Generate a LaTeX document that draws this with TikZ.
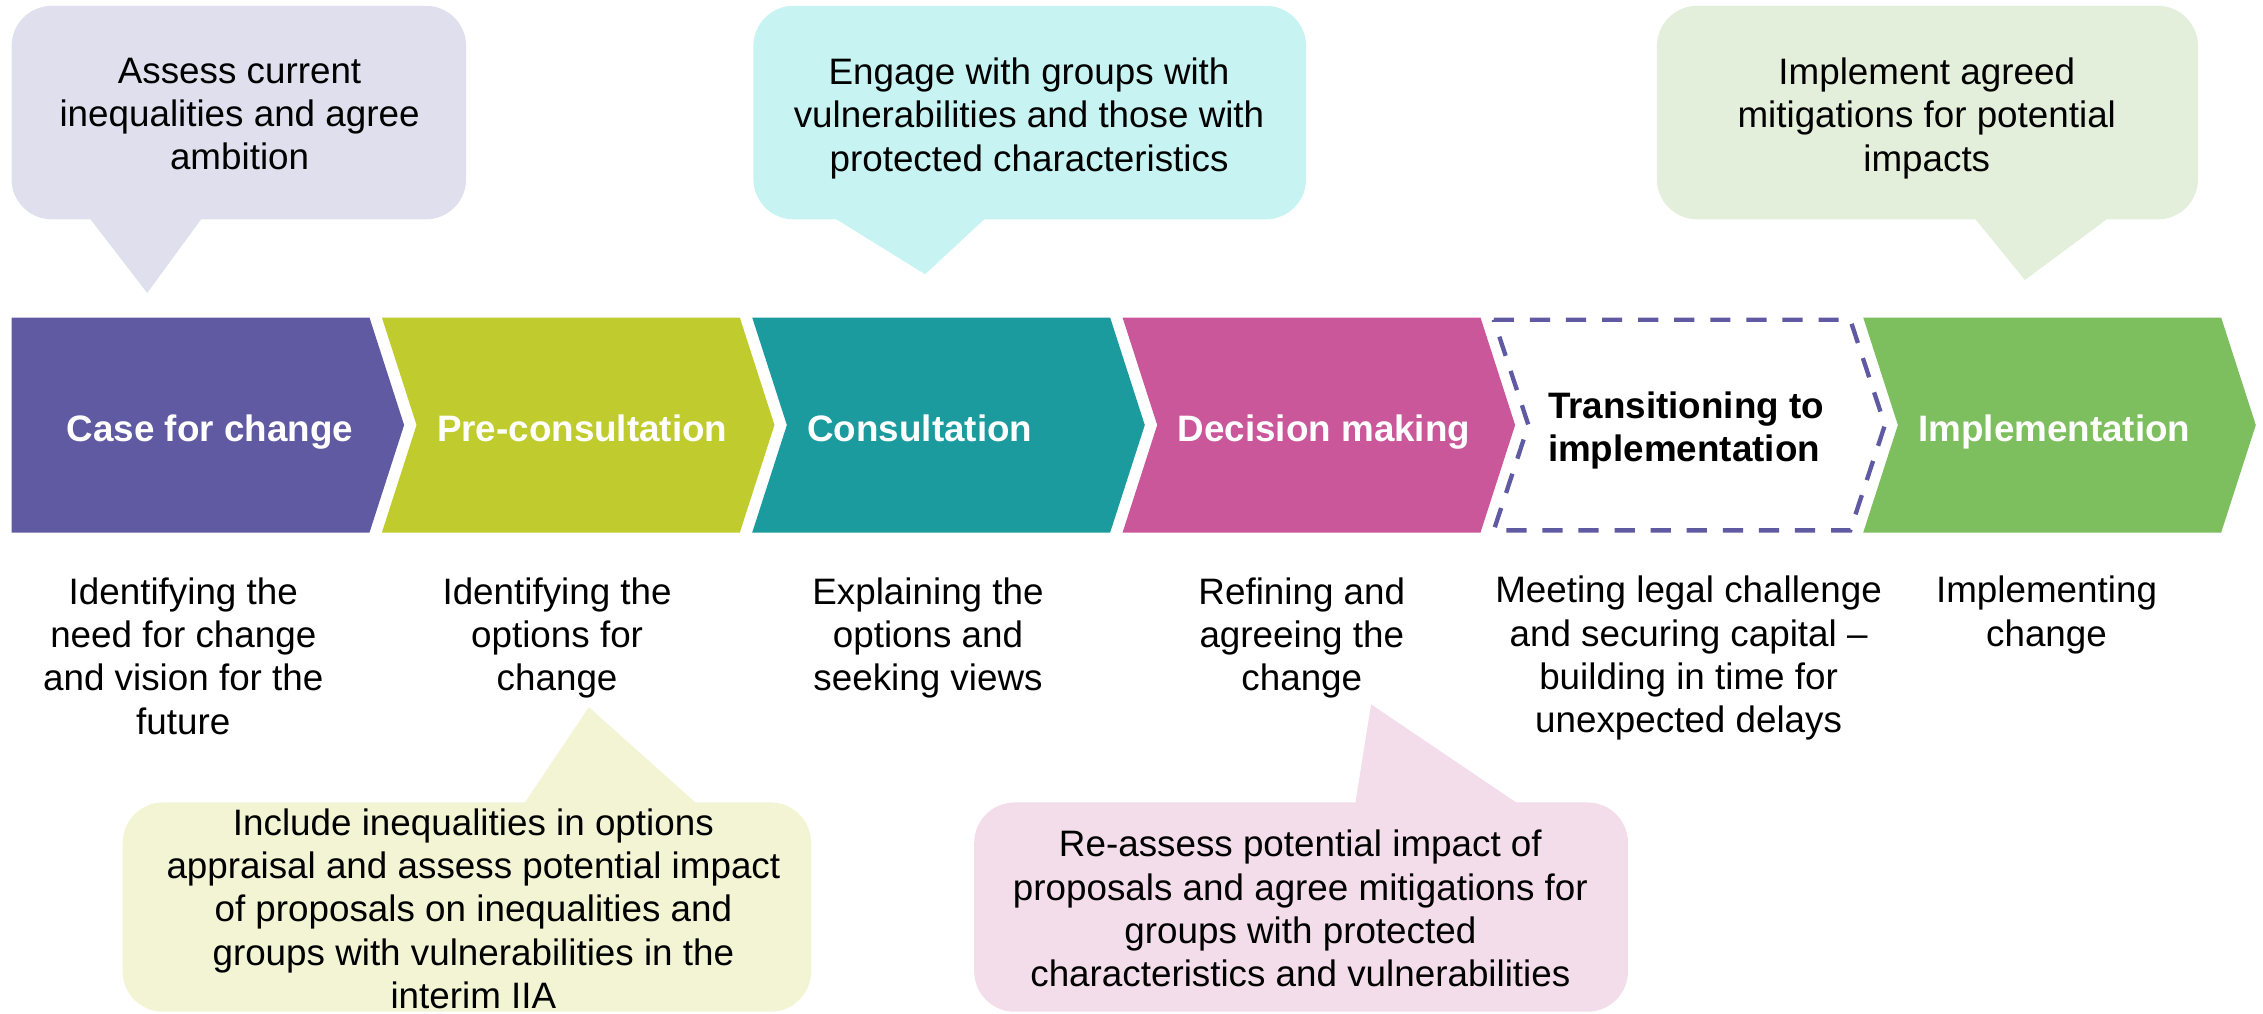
\documentclass[tikz,border=0pt]{standalone}
\usepackage{fontspec}
\setmainfont{Liberation Sans}
\definecolor{casecol}{RGB}{95,90,162}
\definecolor{precol}{RGB}{192,204,46}
\definecolor{conscol}{RGB}{28,155,158}
\definecolor{deccol}{RGB}{201,87,154}
\definecolor{implcol}{RGB}{125,190,94}
\definecolor{bubA}{RGB}{223,223,237}
\definecolor{bubB}{RGB}{199,243,243}
\definecolor{bubC}{RGB}{227,239,218}
\definecolor{bubD}{RGB}{242,244,212}
\definecolor{bubE}{RGB}{243,221,234}

\begin{document}
\begin{tikzpicture}[x=1pt,y=-1pt,
	lbl/.style={anchor=north west,inner sep=0pt,text=white,align=left,font=\fontsize{25.5}{30}\selectfont\bfseries},
	txt/.style={anchor=north,inner sep=0pt,align=center,font=\fontsize{25.5}{30}\selectfont},
	bub/.style={rounded corners=28pt}]
	\useasboundingbox (0,0) rectangle (1568,702);
	\fill[bubA,bub] (8,4) rectangle (323,152);
	\fill[bubA] (62,151) -- (102,203) -- (140,151) -- cycle;
	\fill[bubB,bub] (522,4) rectangle (905,152);
	\fill[bubB] (578,151) -- (641,190) -- (683,151) -- cycle;
	\fill[bubC,bub] (1148,4) rectangle (1523,152);
	\fill[bubC] (1368,151) -- (1403,194) -- (1461,151) -- cycle;
	\fill[bubD,bub] (85,556) rectangle (562,701);
	\fill[bubD] (363,557) -- (408,490) -- (483,557) -- cycle;
	\fill[bubE,bub] (675,556) rectangle (1128,701);
	\fill[bubE] (939,557) -- (950,488) -- (1052,557) -- cycle;
	\fill[casecol] (8,220) -- ++(248,0) -- ++(24,74.5) -- ++(-24,74.5) -- ++(-248,0) -- cycle;
	\fill[precol] (264.6,220) -- ++(248,0) -- ++(24,74.5) -- ++(-24,74.5) -- ++(-248,0) -- ++(24,-74.5) -- cycle;
	\fill[conscol] (521.2,220) -- ++(248,0) -- ++(24,74.5) -- ++(-24,74.5) -- ++(-248,0) -- ++(24,-74.5) -- cycle;
	\fill[deccol] (777.8,220) -- ++(248,0) -- ++(24,74.5) -- ++(-24,74.5) -- ++(-248,0) -- ++(24,-74.5) -- cycle;
	\draw[casecol,line width=3pt,dash pattern=on 14pt off 11pt] (1035,221.5) -- ++(247,0) -- ++(24,73) -- ++(-24,73) -- ++(-247,0) -- ++(24,-73) -- cycle;
	\fill[implcol] (1291,220) -- ++(248,0) -- ++(24,74.5) -- ++(-24,74.5) -- ++(-248,0) -- ++(24,-74.5) -- cycle;
	\node[lbl] (case) at (46,287) {Case for change};
	\node[lbl] (precons) at (302.6,287) {Pre-consultation};
	\node[lbl] (cons) at (559.2,287) {Consultation};
	\node[lbl] (decision) at (815.8,287) {Decision making};
	\node[lbl,text=black] (transition) at (1072.4,271) {Transitioning to\\implementation};
	\node[lbl] (impl) at (1329,287) {Implementation};
	\node[txt] (caseText) at (127,400) {Identifying the\\need for change\\and vision for the\\future};
	\node[txt] (preText) at (386,400) {Identifying the\\options for\\change};
	\node[txt] (consText) at (643,400) {Explaining the\\options and\\seeking views};
	\node[txt] (decText) at (902,400) {Refining and\\agreeing the\\change};
	\node[txt] (transText) at (1170,399) {Meeting legal challenge\\and securing capital –\\building in time for\\unexpected delays};
	\node[txt] (implText) at (1418,399) {Implementing\\change};
	\node[txt] (ambition) at (166,40) {Assess current\\inequalities and agree\\ambition};
	\node[txt] (engage) at (713,40) {Engage with groups with\\vulnerabilities and those with\\protected characteristics};
	\node[txt] (mitigate) at (1335,40) {Implement agreed\\mitigations for potential\\impacts};
	\node[txt] (appraisal) at (328,560) {Include inequalities in options\\appraisal and assess potential impact\\of proposals on inequalities and\\groups with vulnerabilities in the\\interim IIA};
	\node[txt] (reassess) at (901,575) {Re-assess potential impact of\\proposals and agree mitigations for\\groups with protected\\characteristics and vulnerabilities};
\end{tikzpicture}
\end{document}
